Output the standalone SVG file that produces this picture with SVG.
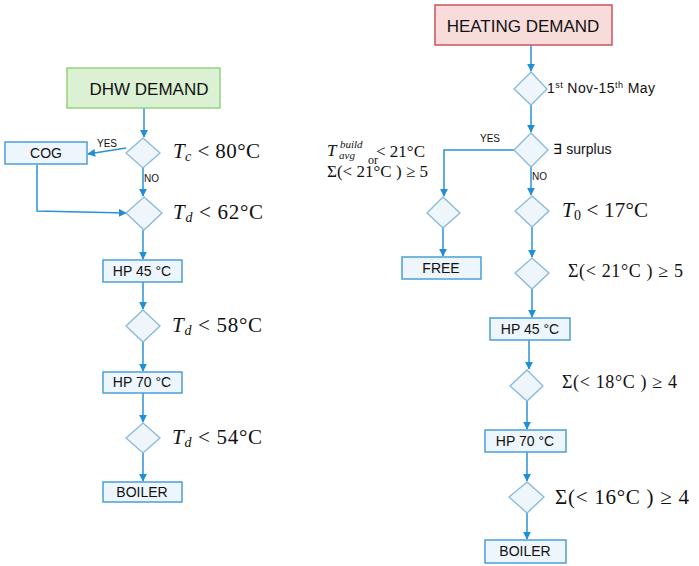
<svg xmlns="http://www.w3.org/2000/svg" width="699" height="566" viewBox="0 0 699 566">
<defs>
<marker id="ah" viewBox="0 0 10 10" refX="9" refY="5" markerWidth="8" markerHeight="8" markerUnits="userSpaceOnUse" orient="auto">
<path d="M0,0 L10,5 L0,10 z" fill="#1f8fd8"/>
</marker>
<style>
.box{fill:#eef6fd;stroke:#4a9ed6;stroke-width:1.5}
.dia{fill:#eef5fb;stroke:#86b9dd;stroke-width:1.3}
.con{fill:none;stroke:#2a92d8;stroke-width:1.5;marker-end:url(#ah)}
.lbl{font-family:"Liberation Sans","DejaVu Sans",sans-serif;font-size:14px;fill:#111;text-anchor:middle}
.sm{font-family:"Liberation Sans","DejaVu Sans",sans-serif;font-size:10px;fill:#111}
.mth{font-family:"Liberation Serif","DejaVu Serif",serif;fill:#111}
.it{font-style:italic}
.txt{font-family:"Liberation Sans","DejaVu Sans",sans-serif;font-size:14px;fill:#111}
</style>
</defs>
<rect width="699" height="566" fill="#ffffff"/>

<g id="connectors">
<path class="con" d="M144,108 V137"/>
<path class="con" d="M126,148 L88,154"/>
<path class="con" d="M143,168 V196"/>
<path class="con" d="M37,165 V211 L126,213"/>
<path class="con" d="M143,230 V259"/>
<path class="con" d="M143,282 V309"/>
<path class="con" d="M143,342 V371"/>
<path class="con" d="M143,393 V422"/>
<path class="con" d="M143,453 V481"/>
<path class="con" d="M531,45 V71"/>
<path class="con" d="M531,105 V132"/>
<path class="con" d="M514,150 H444 V196"/>
<path class="con" d="M531,167 V195"/>
<path class="con" d="M443,228 V256"/>
<path class="con" d="M532,227 V257"/>
<path class="con" d="M532,289 V317"/>
<path class="con" d="M529,340 V369"/>
<path class="con" d="M527,401 V429"/>
<path class="con" d="M527,452 V481"/>
<path class="con" d="M527,513 V539"/>
</g>

<g id="dhw-demand">
<rect x="67" y="68" width="153" height="40" fill="#dcf1d3" stroke="#92d37b" stroke-width="1.5"/>
<text x="149" y="95" text-anchor="middle" font-family="Liberation Sans, DejaVu Sans, sans-serif" font-size="17" fill="#111">DHW DEMAND</text>
</g>

<g id="d-tc">
<path class="dia" d="M143,138 L160,153 L143,168 L126,153 Z"/>
<text class="mth" style="font-size:21px" x="173" y="158" textLength="87" lengthAdjust="spacing"><tspan class="it">T</tspan><tspan class="it" style="font-size:14px" dy="3">c</tspan><tspan dy="-3"> &lt; 80°C</tspan></text>
</g>
<text class="sm" x="97" y="147">YES</text>
<text class="sm" x="144" y="182">NO</text>

<g id="cog">
<rect class="box" x="5" y="142" width="82" height="22"/>
<text class="lbl" x="46" y="158">COG</text>
</g>

<g id="d-td62">
<path class="dia" d="M144,197 L162,213 L144,230 L126,213 Z"/>
<text class="mth" style="font-size:21px" x="173" y="219" textLength="90" lengthAdjust="spacing"><tspan class="it">T</tspan><tspan class="it" style="font-size:14px" dy="3">d</tspan><tspan dy="-3"> &lt; 62°C</tspan></text>
</g>

<g id="hp45-dhw">
<rect class="box" x="103" y="260" width="79" height="22"/>
<text class="lbl" x="142" y="276">HP 45 °C</text>
</g>

<g id="d-td58">
<path class="dia" d="M143,310 L160,326 L143,342 L126,326 Z"/>
<text class="mth" style="font-size:21px" x="172" y="332" textLength="90" lengthAdjust="spacing"><tspan class="it">T</tspan><tspan class="it" style="font-size:14px" dy="3">d</tspan><tspan dy="-3"> &lt; 58°C</tspan></text>
</g>

<g id="hp70-dhw">
<rect class="box" x="103" y="372" width="79" height="21"/>
<text class="lbl" x="142" y="387">HP 70 °C</text>
</g>

<g id="d-td54">
<path class="dia" d="M143,423 L160,438 L143,453 L126,438 Z"/>
<text class="mth" style="font-size:21px" x="172" y="444" textLength="90" lengthAdjust="spacing"><tspan class="it">T</tspan><tspan class="it" style="font-size:14px" dy="3">d</tspan><tspan dy="-3"> &lt; 54°C</tspan></text>
</g>

<g id="boiler-dhw">
<rect class="box" x="103" y="482" width="79" height="20"/>
<text class="lbl" x="142" y="497">BOILER</text>
</g>

<g id="heating-demand">
<rect x="435" y="5" width="177" height="40" fill="#f8dcdc" stroke="#c8555a" stroke-width="1.5"/>
<text x="523" y="32" text-anchor="middle" font-family="Liberation Sans, DejaVu Sans, sans-serif" font-size="17" fill="#111">HEATING DEMAND</text>
</g>

<g id="d-season">
<path class="dia" d="M531,72 L547,89 L531,105 L514,89 Z"/>
<text class="txt" x="547" y="93" textLength="108" lengthAdjust="spacing">1<tspan style="font-size:9px" dy="-5">st</tspan><tspan dy="5"> Nov-15</tspan><tspan style="font-size:9px" dy="-5">th</tspan><tspan dy="5"> May</tspan></text>
</g>

<g id="d-surplus">
<path class="dia" d="M531,133 L548,150 L531,167 L514,150 Z"/>
<text x="553" y="154" font-family="DejaVu Sans, sans-serif" font-size="14" fill="#111">∃ <tspan font-family="Liberation Sans, sans-serif">surplus</tspan></text>
</g>
<text class="sm" x="480" y="142">YES</text>
<text class="sm" x="532" y="180">NO</text>

<g id="d-free">
<path class="dia" d="M443,197 L460,213 L443,228 L427,213 Z"/>
<text class="mth it" style="font-size:17px" x="327" y="156">T</text>
<text class="mth it" style="font-size:11px" x="340" y="148">build</text>
<text class="mth it" style="font-size:11px" x="339" y="159">avg</text>
<text class="mth" style="font-size:17px" x="376" y="157" textLength="49" lengthAdjust="spacing">&lt; 21°C</text>
<text class="mth" style="font-size:12px" x="368" y="164">or</text>
<text class="mth" style="font-size:17px" x="327" y="177" textLength="101" lengthAdjust="spacing">Σ(&lt; 21°C ) ≥ 5</text>
</g>

<g id="free">
<rect class="box" x="402" y="257" width="79" height="22"/>
<text class="lbl" x="441" y="273">FREE</text>
</g>

<g id="d-t0">
<path class="dia" d="M532,196 L549,211 L532,227 L515,211 Z"/>
<text class="mth" style="font-size:21px" x="562" y="217" textLength="86" lengthAdjust="spacing"><tspan class="it">T</tspan><tspan style="font-size:14px" dy="3">0</tspan><tspan dy="-3"> &lt; 17°C</tspan></text>
</g>

<g id="d-sum21">
<path class="dia" d="M532,258 L549,273 L532,289 L515,273 Z"/>
<text class="mth" style="font-size:18px" x="568" y="277" textLength="115" lengthAdjust="spacing">Σ(&lt; 21°C ) ≥ 5</text>
</g>

<g id="hp45-heat">
<rect class="box" x="490" y="318" width="80" height="22"/>
<text class="lbl" x="530" y="334">HP 45 °C</text>
</g>

<g id="d-sum18">
<path class="dia" d="M527,370 L543,386 L527,401 L510,386 Z"/>
<text class="mth" style="font-size:18px" x="562" y="388" textLength="115" lengthAdjust="spacing">Σ(&lt; 18°C ) ≥ 4</text>
</g>

<g id="hp70-heat">
<rect class="box" x="485" y="430" width="81" height="22"/>
<text class="lbl" x="525" y="446">HP 70 °C</text>
</g>

<g id="d-sum16">
<path class="dia" d="M527,482 L544,497 L527,513 L509,497 Z"/>
<text class="mth" style="font-size:21px" x="555" y="504" textLength="134" lengthAdjust="spacing">Σ(&lt; 16°C ) ≥ 4</text>
</g>

<g id="boiler-heat">
<rect class="box" x="485" y="540" width="81" height="23"/>
<text class="lbl" x="525" y="556">BOILER</text>
</g>
</svg>
